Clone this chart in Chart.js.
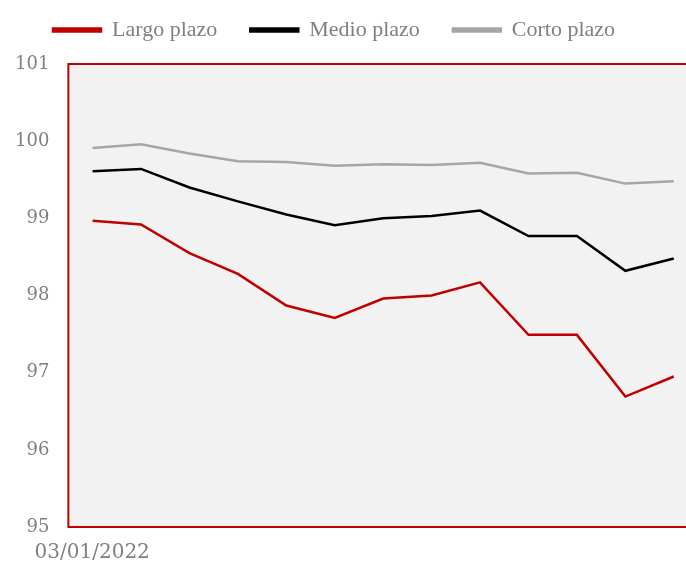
<!DOCTYPE html>
<html>
<head>
<meta charset="utf-8">
<script src="https://cdn.jsdelivr.net/npm/chart.js@4"></script>
<style>
  html, body { margin: 0; padding: 0; background: #fff; overflow: hidden; }
  #wrap { width: 700px; height: 564px; }
</style>
</head>
<body>
<div id="wrap"><canvas id="chart" width="700" height="564"></canvas></div>
<script>
// Data
const fechas = ['03/01/2022', '10/01/2022', '17/01/2022', '24/01/2022', '31/01/2022', '07/02/2022',
    '14/02/2022', '21/02/2022', '28/02/2022', '07/03/2022', '14/03/2022', '21/03/2022', '28/03/2022'];
const largoPlazo = [98.97, 98.92, 98.55, 98.28, 97.87, 97.71, 97.96, 98.00, 98.17, 97.49, 97.49, 96.69, 96.95];
const medioPlazo = [99.61, 99.64, 99.40, 99.22, 99.05, 98.91, 99.00, 99.03, 99.10, 98.77, 98.77, 98.32, 98.48];
const cortoPlazo = [99.91, 99.96, 99.84, 99.74, 99.73, 99.68, 99.70, 99.69, 99.72, 99.58, 99.59, 99.45, 99.48];

const textColor = '#7f7f7f';
const borderRed = '#c00000';

// Plot background + red frame
const plotFrame = {
    id: 'plotFrame',
    beforeDatasetsDraw(chart) {
        const { ctx, chartArea: a } = chart;
        ctx.save();
        ctx.fillStyle = '#f2f2f2';
        ctx.fillRect(a.left, a.top, a.right - a.left, a.bottom - a.top);
        ctx.strokeStyle = borderRed;
        ctx.lineWidth = 2;
        ctx.strokeRect(a.left, a.top, a.right - a.left, a.bottom - a.top);
        ctx.restore();
    }
};

// Extra room under the legend, and nudge it a bit right
const legendTweak = {
    id: 'legendTweak',
    afterInit(chart) {
        const lg = chart.legend;
        const fit = lg.fit;
        lg.fit = function () {
            fit.call(this);
            this.height += 13;
        };
    },
    afterLayout(chart) {
        chart.legend.left += 5;
        chart.legend.right += 5;
    }
};

function serie(label, data, color) {
    return {
        label: label,
        data: data,
        borderColor: color,
        backgroundColor: color,
        borderWidth: 2.5,
        pointRadius: 0,
        tension: 0,
        fill: false
    };
}

new Chart(document.getElementById('chart').getContext('2d'), {
    type: 'line',
    data: {
        labels: fechas,
        datasets: [
            serie('Largo plazo', largoPlazo, borderRed),
            serie('Medio plazo', medioPlazo, '#000000'),
            serie('Corto plazo', cortoPlazo, '#a6a6a6')
        ]
    },
    options: {
        responsive: false,
        animation: false,
        layout: { padding: { left: 15, right: 2, top: -14, bottom: -15 } },
        plugins: {
            legend: {
                position: 'top',
                align: 'start',
                labels: {
                    boxWidth: 48,
                    boxHeight: 3,
                    padding: 33,
                    color: textColor,
                    font: { family: 'Liberation Serif', size: 22 }
                }
            },
            tooltip: { enabled: false }
        },
        scales: {
            x: {
                offset: true,
                grid: { display: false, drawTicks: false, tickLength: 0 },
                border: { display: false },
                ticks: {
                    color: textColor,
                    padding: 14,
                    maxRotation: 0,
                    autoSkip: false,
                    // left-aligned label pulled back so it sits centred under the first point
                    align: 'start',
                    labelOffset: -58,
                    font: { family: 'DejaVu Serif', size: 20 },
                    callback: (v, i) => i === 0 ? fechas[0] : ''
                }
            },
            y: {
                min: 95,
                max: 101,
                grid: { display: false, drawTicks: false, tickLength: 0 },
                border: { display: false },
                // chart.js counts the tick padding on both sides; keep it only between labels and plot
                afterFit: (s) => { s.width -= s.options.ticks.padding; },
                ticks: {
                    stepSize: 1,
                    color: textColor,
                    padding: 19,
                    font: { family: 'DejaVu Serif', size: 18 }
                }
            }
        }
    },
    plugins: [plotFrame, legendTweak]
});
</script>
</body>
</html>
